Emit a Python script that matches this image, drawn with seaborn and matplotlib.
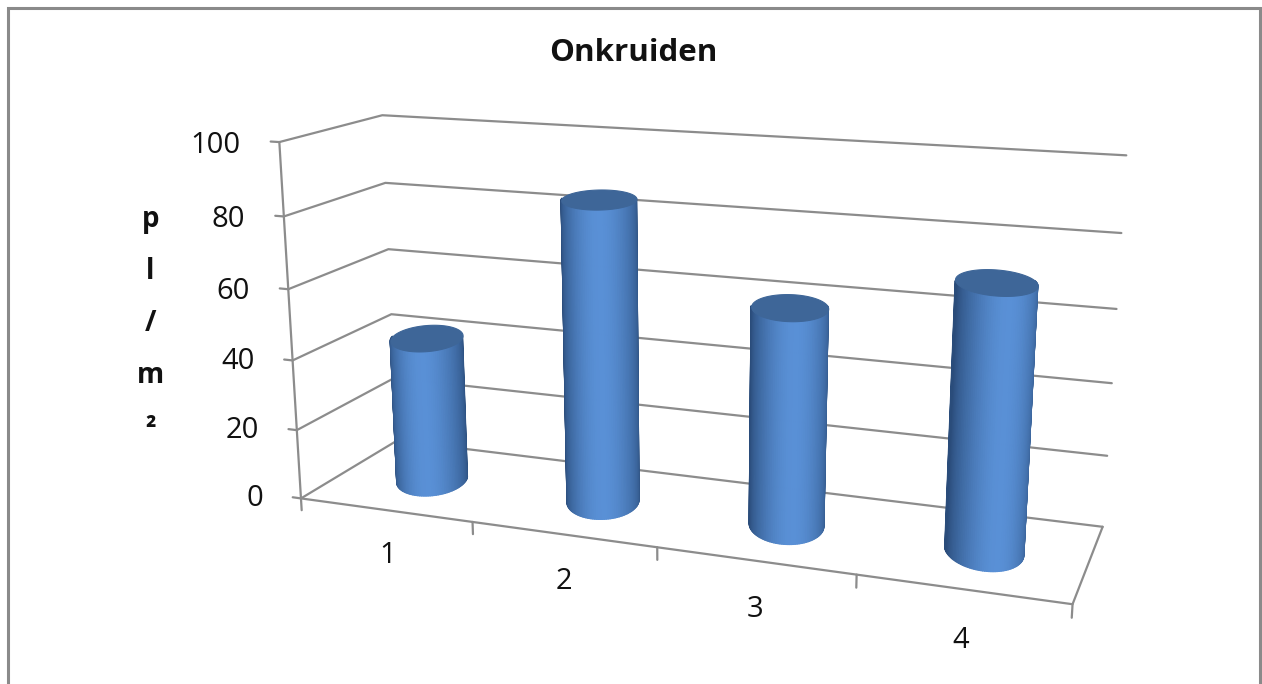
import numpy as np
import matplotlib
matplotlib.use("Agg")
import matplotlib.pyplot as plt
import seaborn as sns
from matplotlib.colors import to_rgb
from matplotlib.patches import Rectangle
from mpl_toolkits.mplot3d.art3d import Poly3DCollection

# --- data -------------------------------------------------------------
title = "Onkruiden"
categories = ["1", "2", "3", "4"]
values = [42, 85, 60, 71]
y_ticks = [0, 20, 40, 60, 80, 100]
y_label = "p\nl\n/\nm\n²"

# --- style ------------------------------------------------------------
sns.set_theme(style="white")
plt.rcParams["font.family"] = ["Open Sans", "DejaVu Sans"]

grid_color = "#8c8c8c"
text_color = "#111111"
light = np.array(to_rgb("#5990D6"))
dark = np.array(to_rgb("#2A4C7A"))
cap_color = "#3E6698"

ELEV, AZIM = 15, -70

fig = plt.figure(figsize=(12.62, 6.84), dpi=100)
cx_fig = 682 / 1262
cy_fig = 1 - 346.5 / 684
ax = fig.add_axes([cx_fig - 0.5, cy_fig - 0.6, 1.0, 1.2], projection="3d", computed_zorder=False)
ax.set_proj_type("persp", focal_length=0.4)
ax.view_init(elev=ELEV, azim=AZIM)
ax.set_axis_off()

n_cat = len(categories)
unit = 1.175          # box length of one category
depth = 1.02          # floor depth in category units
zmax = y_ticks[-1]
ax.set_xlim(0, n_cat)
ax.set_ylim(0, depth)
ax.set_zlim(0, zmax)
ax.set_box_aspect((n_cat * unit, depth * unit, 2.206), zoom=1.075)

line_kw = dict(color=grid_color, lw=1.6, zorder=1, clip_on=False)

# back wall and side wall gridlines, value ticks on the front-left edge
for t in y_ticks:
    ax.plot([0, 0, n_cat], [0, depth, depth], [t, t, t], **line_kw)
    ax.plot([0, -0.05], [0, 0], [t, t], **line_kw)

# value axis line and floor outline
ax.plot([0, 0], [0, 0], [0, zmax], **line_kw)
ax.plot([0, n_cat, n_cat], [0, 0, depth], [0, 0, 0], **line_kw)

# category boundary ticks
for i in range(n_cat + 1):
    ax.plot([i, i], [0, 0], [0, -3.5], **line_kw)

# cylinders: cross-section stretched along the viewing direction so the
# lids read as level ellipses; draw the mantle half facing the viewer, then the lid
r_side = 0.187
r_view = r_side * 1.45
n_seg = 120
theta = np.linspace(0, 2 * np.pi, n_seg + 1)
w = np.array([np.cos(np.deg2rad(AZIM)), np.sin(np.deg2rad(AZIM))])   # toward viewer
u = np.array([-w[1], w[0]])                                          # screen right
hl = np.array([np.cos(np.deg2rad(AZIM + 6)), np.sin(np.deg2rad(AZIM + 6))])


def rim(cx, cy, a):
    p = np.array([cx, cy]) + r_side * np.cos(a) * u + r_view * np.sin(a) * w
    return p[0], p[1]


for i, v in enumerate(values):
    cx, cy = i + 0.5, depth / 2
    quads, cols = [], []
    for k in range(n_seg):
        a0, a1 = theta[k], theta[k + 1]
        am = 0.5 * (a0 + a1)
        normal = np.cos(am) * r_view * u + np.sin(am) * r_side * w
        normal /= np.linalg.norm(normal)
        if normal @ w < -0.06:
            continue
        x0, y0 = rim(cx, cy, a0)
        x1, y1 = rim(cx, cy, a1)
        quads.append([(x0, y0, 0), (x1, y1, 0), (x1, y1, v), (x0, y0, v)])
        f = max(normal @ hl, 0.0) ** 0.9
        cols.append(tuple(np.clip(dark + (light - dark) * f, 0, 1)))
    side = Poly3DCollection(quads, facecolors=cols, edgecolors=cols, linewidths=1.0, zorder=2)
    side.set_clip_on(False)
    ax.add_collection3d(side)
    top = [(*rim(cx, cy, a), v) for a in theta[:-1]]
    cap = Poly3DCollection([top], facecolors=cap_color, edgecolors=cap_color, linewidths=0.8, zorder=3)
    cap.set_clip_on(False)
    ax.add_collection3d(cap)

# fix the projection, then place labels at projected 3D anchor points
fig.canvas.draw()
M = ax.get_proj()


def project(x, y, z):
    p = M @ np.array([x, y, z, 1.0])
    return p[0] / p[3], p[1] / p[3]


for t in y_ticks:
    px, py = project(-0.23, 0, t - 1.6)
    ax.text2D(px, py, f"{t}", transform=ax.transData, ha="right", va="center",
              fontsize=21, color=text_color)
for i, c in enumerate(categories):
    px, py = project(i + 0.5, 0, -13.5)
    ax.text2D(px, py, c, transform=ax.transData, ha="center", va="center",
              fontsize=21, color=text_color)

# title and stacked axis label
fig.text(0.502, 0.922, title, ha="center", va="center", fontsize=22.5, fontweight="bold", color=text_color)
fig.text(0.119, 0.527, y_label, ha="center", va="center", fontsize=20, fontweight="bold",
         color=text_color, linespacing=2.05)

# chart frame
fig.add_artist(Rectangle((8 / 1262, -0.05), (1260 - 8) / 1262, 1.05 - 8 / 684,
                         transform=fig.transFigure, fill=False, edgecolor="#8a8a8a", lw=2.2))

fig.savefig("out.png", dpi=100, facecolor="white")
